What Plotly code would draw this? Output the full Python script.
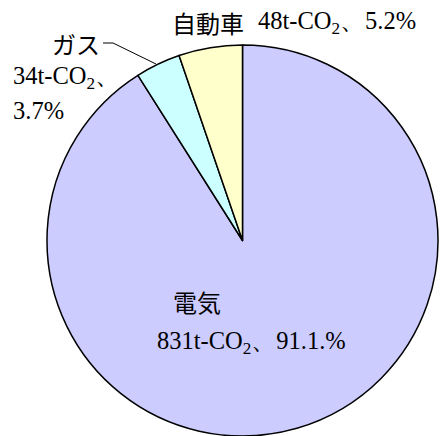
import plotly.graph_objects as go

# Data
categories = ["電気", "ガス", "自動車"]
values = [831, 34, 48]
value_labels = ["831t-CO<sub>2</sub>、91.1.%", "34t-CO<sub>2</sub>、", "48t-CO<sub>2</sub>、5.2%"]
pct_gas = "3.7%"
colors = ["#CCCCFF", "#CCFFFF", "#FFFFCC"]

W, H = 441, 436
JP = "Noto Sans CJK JP"
SERIF = "Liberation Serif, Times New Roman, serif"
JP_SIZE = 24
NUM_SIZE = 24.5


def px(x):
    return x / W


def py(y):
    return 1 - y / H


fig = go.Figure(
    go.Pie(
        labels=categories,
        values=values,
        sort=False,
        direction="clockwise",
        rotation=0,
        marker=dict(colors=colors, line=dict(color="black", width=1.5)),
        textinfo="none",
        hoverinfo="none",
        showlegend=False,
        domain=dict(x=[46.5 / W, 438.5 / W], y=[0, 391 / H]),
    )
)

ann = []
# 自動車
ann.append(dict(text=categories[2], x=px(208), y=py(22), xanchor="center", yanchor="middle",
                font=dict(family=JP, size=JP_SIZE, color="black")))
ann.append(dict(text=value_labels[2], x=px(256), y=py(22), xanchor="left", yanchor="middle",
                font=dict(family=SERIF, size=NUM_SIZE, color="black")))
# ガス
ann.append(dict(text=categories[1], x=px(76), y=py(43), xanchor="center", yanchor="middle",
                font=dict(family=JP, size=JP_SIZE, color="black")))
ann.append(dict(text=value_labels[1], x=px(11), y=py(77), xanchor="left", yanchor="middle",
                font=dict(family=SERIF, size=NUM_SIZE, color="black")))
ann.append(dict(text=pct_gas, x=px(11), y=py(111), xanchor="left", yanchor="middle",
                font=dict(family=SERIF, size=NUM_SIZE, color="black")))
# 電気
ann.append(dict(text=categories[0], x=px(171), y=py(301), xanchor="left", yanchor="middle",
                font=dict(family=JP, size=JP_SIZE, color="black")))
ann.append(dict(text=value_labels[0], x=px(155), y=py(342), xanchor="left", yanchor="middle",
                font=dict(family=SERIF, size=NUM_SIZE, color="black")))
for a in ann:
    a.update(xref="paper", yref="paper", showarrow=False)

# leader line for ガス
path = f"M {px(103)},{py(43)} L {px(113)},{py(43)} L {px(156)},{py(64)}"
fig.update_layout(
    width=W,
    height=H,
    margin=dict(l=0, r=0, t=0, b=0),
    paper_bgcolor="white",
    plot_bgcolor="white",
    annotations=ann,
    shapes=[dict(type="path", path=path, xref="paper", yref="paper",
                 line=dict(color="black", width=1))],
    hovermode=False,
)

fig.write_html("out.html")
